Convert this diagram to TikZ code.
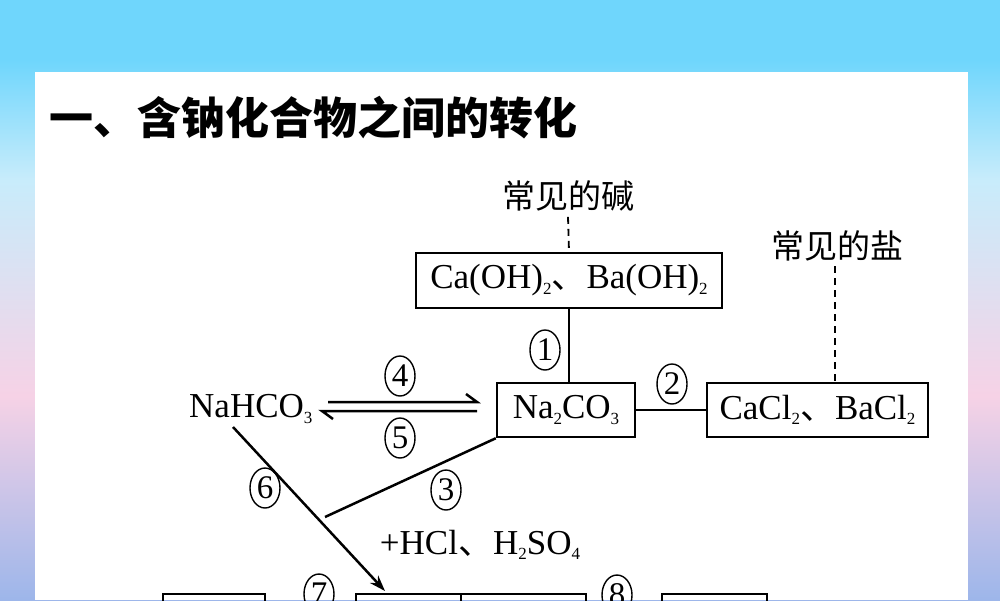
\documentclass[tikz,border=0pt]{standalone}
\usepackage{fontspec}
\setmainfont{Liberation Serif}
\newfontfamily\cjk{Noto Sans CJK SC}
\usetikzlibrary{shapes.geometric,arrows.meta}
\definecolor{bgtop}{HTML}{6FD6FC}
\definecolor{bgmid}{HTML}{C8ECFB}
\definecolor{bgpink}{HTML}{F6D2E6}
\definecolor{bgblue}{HTML}{9DB6EA}
\pgfdeclareverticalshading{bgshade}{100bp}{
 color(0bp)=(bgblue); color(25bp)=(bgblue); color(42bp)=(bgpink); color(60bp)=(bgmid); color(70bp)=(bgtop); color(100bp)=(bgtop)}
\newcommand{\sbs}[1]{\raisebox{-0.35ex}{\fontsize{17}{17}\selectfont #1}}
\newcommand{\dun}{{\cjk 、}}
\begin{document}
\begin{tikzpicture}[x=1pt,y=-1pt,
 chem/.style={font=\fontsize{35}{35}\selectfont,inner sep=0pt},
 cn/.style={font=\fontsize{33}{33}\selectfont\cjk},
 bx/.style={draw,line width=2.5pt,rectangle},
 num/.style={draw,ellipse,line width=1.4pt,minimum width=30pt,minimum height=40pt,inner sep=0pt,font=\fontsize{33}{33}\selectfont},
 dsh/.style={line width=1.8pt,dash pattern=on 7pt off 5pt},
 ln/.style={line width=2.5pt}]
\useasboundingbox (0,0) rectangle (1000,600);
\shade[shading=bgshade] (0,0) rectangle (1000,600);
\fill[white] (35,72) rectangle (968,600);
\clip (0,0) rectangle (1000,600);
\node[anchor=west,font=\fontsize{44}{44}\selectfont\cjk\bfseries] (title) at (46,118) {一、含钠化合物之间的转化};
\node[cn] (jian) at (568,196) {常见的碱};
\node[bx,minimum width=306pt,minimum height=55pt] (oh) at (569,280.5) {};
\node[chem] at (oh) {Ca(OH)\sbs{2}\dun Ba(OH)\sbs{2}};
\node[cn] (yan) at (837,246) {常见的盐};
\node[bx,minimum width=138pt,minimum height=54pt] (na2) at (566,410) {};
\node[chem] at (na2) {Na\sbs{2}CO\sbs{3}};
\node[bx,minimum width=221pt,minimum height=54pt] (ca) at (817.5,410) {};
\node[chem] at (ca) {CaCl\sbs{2}\dun BaCl\sbs{2}};
\node[chem,anchor=west] (nah) at (189,409) {NaHCO\sbs{3}};
\node[chem] (acid) at (480,545) {+HCl\dun H\sbs{2}SO\sbs{4}};
\draw[dsh] (jian.south) ++(0,2) -- (oh.north);
\draw[dsh] (835,266) coordinate (ys) -- (ys |- ca.north);
\draw[ln] (oh.south) -- (oh.south |- na2.north);
\draw[ln] (na2.east) -- (ca.west);
\coordinate (j) at (325,517);
\draw[ln] (na2.south west) -- (j);
\draw[ln] (328,402) coordinate (h1) -- (477,402) -- ++(-11,-8);
\draw[ln] (477,411) -- (322,411) coordinate (h2) -- ++(11,8);
\coordinate (n6) at (233,427);
\coordinate (t6) at (385,591);
\draw[ln,-{Stealth[length=16pt,width=11pt]}] (n6) -- (t6);
\node[num] (c1) at (545,350) {1};
\node[num] (c2) at (672,384) {2};
\node[num] (c3) at (446,490) {3};
\node[num] (c4) at (400,376) {4};
\node[num] (c5) at (400,438) {5};
\node[num] (c6) at (265,488) {6};
\node[num] (c7) at (319,594) {7};
\node[num] (c8) at (617,595) {8};
\draw[ln] (163,640) |- (265,594) -- (265,640);
\draw[ln] (356,640) |- (586,594) -- (586,640);
\draw[ln] (461,594) -- (461,640);
\draw[ln] (662,640) |- (767,594) -- (767,640);
\end{tikzpicture}
\end{document}
